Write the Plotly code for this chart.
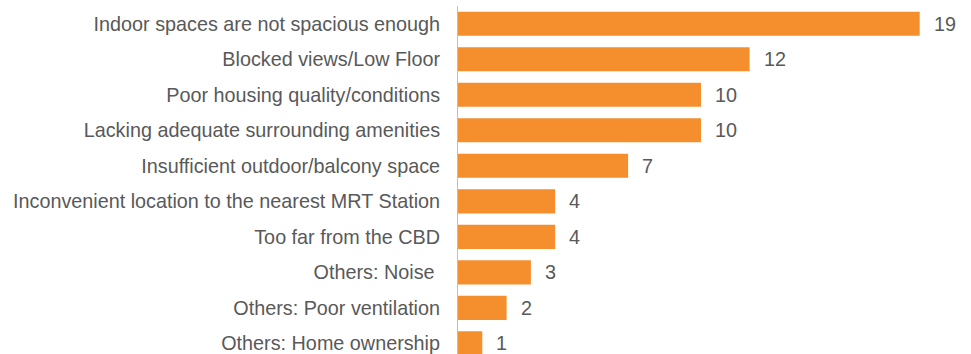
import plotly.graph_objects as go

categories = [
    "Indoor spaces are not spacious enough",
    "Blocked views/Low Floor",
    "Poor housing quality/conditions",
    "Lacking adequate surrounding amenities",
    "Insufficient outdoor/balcony space",
    "Inconvenient location to the nearest MRT Station",
    "Too far from the CBD",
    "Others: Noise ",
    "Others: Poor ventilation",
    "Others: Home ownership",
]
counts = [19, 12, 10, 10, 7, 4, 4, 3, 2, 1]

bar_color = "#F58F2E"
text_color = "#595959"
font_family = "Liberation Sans, Arial, sans-serif"
font_size = 19.8

fig = go.Figure(
    go.Bar(
        x=counts,
        y=categories,
        orientation="h",
        marker=dict(color=bar_color, line=dict(width=0)),
        width=0.68,
        hoverinfo="skip",
    )
)

# value labels just past the end of each bar
for cat, val in zip(categories, counts):
    fig.add_annotation(
        x=val, y=cat, text=str(val), showarrow=False,
        xanchor="left", xshift=12,
        font=dict(family=font_family, size=font_size, color=text_color),
    )

fig.update_layout(
    width=971, height=354,
    margin=dict(l=458, r=0, t=6, b=0),
    paper_bgcolor="white", plot_bgcolor="white",
    showlegend=False,
    font=dict(family=font_family, size=font_size, color=text_color),
    xaxis=dict(range=[0, 513 / 24.3], visible=False, fixedrange=True),
    yaxis=dict(
        type="category",
        range=[9.3, -0.5],
        showline=True, linecolor="#BFBFBF", linewidth=1,
        showgrid=False, zeroline=False,
        ticks="", ticklabelstandoff=13,
        tickfont=dict(family=font_family, size=font_size, color=text_color),
    ),
)

fig.write_html("out.html")
